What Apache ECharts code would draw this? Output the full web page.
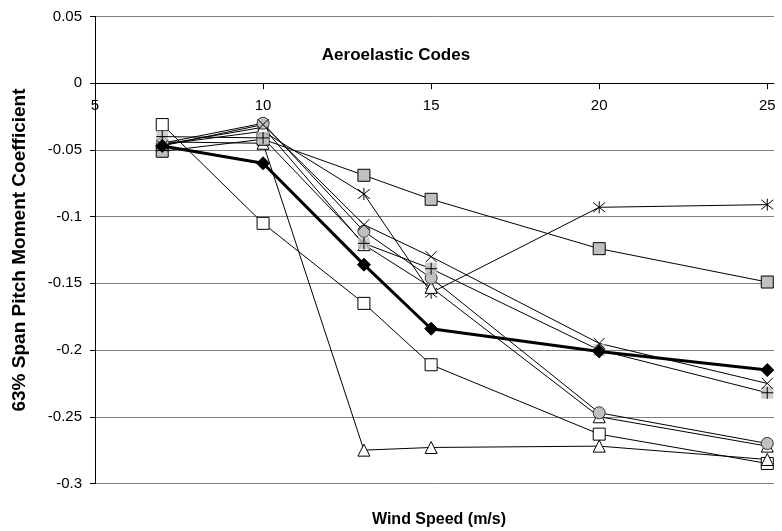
<!DOCTYPE html>
<html>
<head>
<meta charset="utf-8">
<script src="https://cdn.jsdelivr.net/npm/echarts@6/dist/echarts.min.js"></script>
<style>
html,body{margin:0;padding:0;background:#fff;}
#chart{width:782px;height:531px;}
</style>
</head>
<body>
<div id="chart"></div>
<script>
// ---- data ----
const windSpeed = [7, 10, 13, 15, 20, 25];
const measured   = [-0.047, -0.060, -0.136, -0.184, -0.201, -0.215]; // filled diamond, thick
const openSquare = [-0.031, -0.105, -0.165, -0.211, -0.263, -0.285];
const graySquare = [-0.051, -0.042, -0.069, -0.087, -0.124, -0.149];
const asterisk   = [-0.046, -0.036, -0.083, -0.157, -0.093, -0.091];
const xMark      = [-0.047, -0.031, -0.106, -0.130, -0.195, -0.225];
const plusMark   = [-0.040, -0.041, -0.120, -0.139, -0.200, -0.232];
const circle     = [-0.045, -0.030, -0.111, -0.146, -0.247, -0.270];
const triangleA  = [-0.044, -0.045, -0.275, -0.273, -0.272, -0.282];
const triangleB  = [-0.046, -0.033, -0.121, -0.153, -0.250, -0.272];
const xTicks = [5, 10, 15, 20, 25];

const pairs = arr => windSpeed.map((w, i) => [w, arr[i]]);
const FONT = 'Liberation Sans, Arial, sans-serif';

const P_AST = 'path://M5,0 L5,10 M0,1 L10,9 M10,1 L0,9';
const P_X = 'path://M0,0 L10,10 M10,0 L0,10';
const P_PLUS = 'path://M5,0 L5,10 M0,5 L10,5';

function lineSeries(name, arr, symbol, size, fill, stroke, lw, extra) {
  return Object.assign({
    name: name, type: 'line', data: pairs(arr),
    symbol: symbol, symbolSize: size, showSymbol: true,
    lineStyle: { color: '#000', width: lw },
    itemStyle: { color: fill, borderColor: stroke, borderWidth: 1 },
    emphasis: { disabled: true }, z: 2
  }, extra || {});
}

const GRID_TOP = 16.5, GRID_BOTTOM = 47.5, CH = 531;
const plotH = CH - GRID_TOP - GRID_BOTTOM;
const yMin = -0.3, yMax = 0.05;
// the x axis crosses at y = 0
const zeroOffset = -plotH * (0 - yMin) / (yMax - yMin);

const chart = echarts.init(document.getElementById('chart'), null, { renderer: 'canvas' });
chart.setOption({
  animation: false,
  backgroundColor: '#fff',
  grid: { left: 95, top: GRID_TOP, right: 8, bottom: GRID_BOTTOM, containLabel: false, outerBoundsMode: 'none' },
  title: [
    { text: 'Aeroelastic Codes', left: 391, top: 42, textAlign: 'center',
      textStyle: { fontFamily: FONT, fontSize: 17, fontWeight: 'bold', color: '#000' } },
    { text: 'Wind Speed (m/s)', left: 434, top: 507, textAlign: 'center',
      textStyle: { fontFamily: FONT, fontSize: 16, fontWeight: 'bold', color: '#000' } }
  ],
  xAxis: {
    type: 'value', min: 5, max: 25.2, position: 'bottom', offset: zeroOffset,
    axisLine: { onZero: false, lineStyle: { color: '#000', width: 1 } },
    axisTick: { show: true, length: 6, lineStyle: { color: '#000' }, customValues: xTicks },
    axisLabel: { customValues: xTicks, margin: 15, fontFamily: FONT, fontSize: 15, color: '#000' },
    splitLine: { show: false }
  },
  yAxis: {
    type: 'value', min: yMin, max: yMax, interval: 0.05,
    name: '63% Span Pitch Moment Coefficient', nameLocation: 'middle', nameGap: 66,
    nameTextStyle: { fontFamily: FONT, fontSize: 19, fontWeight: 'bold', color: '#000' },
    axisLine: { show: true, onZero: false, lineStyle: { color: '#000', width: 1 } },
    axisTick: { show: true, length: 5, lineStyle: { color: '#000' } },
    axisLabel: { margin: 13, fontFamily: FONT, fontSize: 15, color: '#000',
      formatter: v => String(Math.round(v * 100) / 100) },
    splitLine: { show: true, lineStyle: { color: '#808080', width: 1 } }
  },
  series: [
    lineSeries('Open square', openSquare, 'rect', 12, '#fff', '#000', 1),
    lineSeries('Triangle A', triangleA, 'triangle', 12, '#fff', '#000', 1),
    lineSeries('Gray square', graySquare, 'rect', 12, '#c0c0c0', '#000', 1),
    lineSeries('Asterisk', asterisk, P_AST, 12, 'rgba(0,0,0,0)', '#000', 1),
    lineSeries('Triangle B', triangleB, 'triangle', 12, '#fff', '#000', 1),
    lineSeries('Circle', circle, 'circle', 12, '#c0c0c0', '#333', 1),
    { name: 'Plus bg', type: 'scatter', data: pairs(plusMark), symbol: 'rect', symbolSize: 12,
      itemStyle: { color: '#c0c0c0', borderWidth: 0 }, emphasis: { disabled: true }, z: 2 },
    lineSeries('Plus', plusMark, P_PLUS, 12, 'rgba(0,0,0,0)', '#000', 1),
    lineSeries('X', xMark, P_X, 11, 'rgba(0,0,0,0)', '#000', 1),
    lineSeries('Measured', measured, 'diamond', 13, '#000', '#000', 3, { z: 3 })
  ]
});
</script>
</body>
</html>
